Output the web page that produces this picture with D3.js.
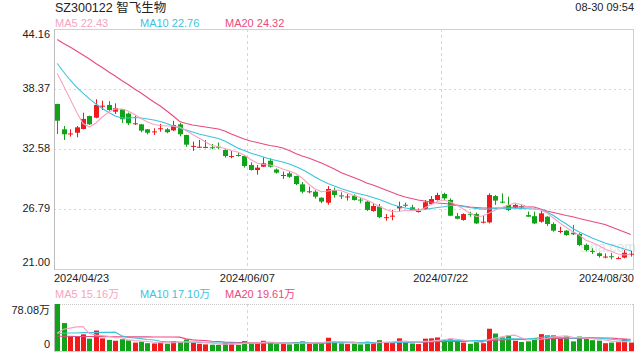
<!DOCTYPE html>
<html><head><meta charset="utf-8">
<script src="https://cdn.jsdelivr.net/npm/d3@7/dist/d3.min.js"></script>
<style>html,body{margin:0;padding:0;background:#fff;}svg{display:block;}</style>
</head><body><svg id="c" width="640" height="360"></svg>
<script>
const dates = ["2024/04/23","2024/04/24","2024/04/25","2024/04/26","2024/04/29","2024/04/30",
"2024/05/06","2024/05/07","2024/05/08","2024/05/09","2024/05/10","2024/05/13","2024/05/14","2024/05/15","2024/05/16","2024/05/17",
"2024/05/20","2024/05/21","2024/05/22","2024/05/23","2024/05/24","2024/05/27","2024/05/28","2024/05/29","2024/05/30","2024/05/31",
"2024/06/03","2024/06/04","2024/06/05","2024/06/06","2024/06/07","2024/06/11","2024/06/12","2024/06/13","2024/06/14",
"2024/06/17","2024/06/18","2024/06/19","2024/06/20","2024/06/21","2024/06/24","2024/06/25","2024/06/26","2024/06/27","2024/06/28",
"2024/07/01","2024/07/02","2024/07/03","2024/07/04","2024/07/05","2024/07/08","2024/07/09","2024/07/10","2024/07/11","2024/07/12",
"2024/07/15","2024/07/16","2024/07/17","2024/07/18","2024/07/19","2024/07/22","2024/07/23","2024/07/24","2024/07/25","2024/07/26",
"2024/07/29","2024/07/30","2024/07/31","2024/08/01","2024/08/02","2024/08/05","2024/08/06","2024/08/07","2024/08/08","2024/08/09",
"2024/08/12","2024/08/13","2024/08/14","2024/08/15","2024/08/16","2024/08/19","2024/08/20","2024/08/21","2024/08/22","2024/08/23",
"2024/08/26","2024/08/27","2024/08/28","2024/08/29","2024/08/30"];

const open = [36.92,34.48,34.00,34.15,34.51,35.76,35.60,36.70,36.83,36.18, 36.41,36.00,35.00,34.96,34.48,34.20,34.50,34.48,34.38,34.96,
33.93,32.80,32.75,32.70,32.75,32.80,32.48,31.85,32.00,31.90, 31.04,30.55,30.87,31.45,30.60,30.00,30.23,29.97,29.17,28.43,
28.46,27.88,27.40,28.62,28.10,27.95,28.07,27.70,27.50,26.60, 27.02,25.96,26.05,26.85,27.20,26.95,26.55,26.79,27.27,27.66,
28.24,27.66,26.10,25.73,26.33,26.30,25.52,25.50,28.04,27.50, 27.18,26.92,27.05,26.20,26.10,25.56,26.05,25.34,24.62,24.70,
24.50,24.38,23.32,22.75,22.52,22.15,22.23,22.00,22.10,22.43];
const high = [36.95,34.80,34.48,34.80,36.08,35.80,37.38,37.24,37.20,36.99, 36.45,36.10,35.80,35.00,34.50,34.58,35.00,34.60,35.30,35.10,
33.95,33.30,33.45,33.45,33.06,33.20,32.55,32.40,32.20,31.95, 31.30,31.04,31.78,31.68,30.70,30.40,30.45,30.00,29.40,28.95,
28.60,27.92,29.00,28.85,28.40,28.24,28.20,27.90,27.55,27.34, 27.27,26.30,26.70,27.50,27.40,27.20,26.85,27.66,28.04,28.36,
28.36,27.82,26.40,26.37,26.53,26.45,26.20,28.30,28.14,28.30, 27.98,27.30,27.20,26.55,26.53,26.76,26.10,25.50,25.08,24.75,
25.25,24.45,23.45,23.00,22.60,22.50,22.55,22.20,22.83,22.77];
const low = [34.03,33.45,33.77,33.71,34.48,34.90,35.55,36.34,36.27,35.96, 35.10,34.90,34.90,34.20,34.00,33.93,34.25,34.10,34.30,33.80,
32.80,32.40,32.70,32.65,32.55,32.55,31.75,31.68,31.85,30.78, 30.50,30.10,30.85,30.80,30.20,29.70,29.80,29.10,28.30,28.30,
27.80,27.35,27.20,27.90,27.75,27.60,27.60,27.34,26.60,26.53, 25.90,25.66,25.70,26.53,26.95,26.60,26.45,26.70,27.18,27.60,
27.66,26.10,25.80,25.66,26.05,25.35,25.40,25.40,27.18,27.34, 26.60,26.85,26.75,26.05,25.33,25.47,25.15,24.60,24.44,24.20,
24.28,23.20,22.70,22.45,22.10,22.03,21.93,21.95,22.03,22.20];
const close = [35.31,34.00,34.08,34.67,35.48,34.96,36.83,36.76,36.34,36.51, 35.45,35.06,35.06,34.35,34.15,34.28,34.58,34.20,34.90,34.00,
33.00,32.88,32.80,32.78,32.70,32.75,31.90,31.90,31.95,30.94, 30.55,30.78,31.20,30.87,30.30,30.07,29.90,29.20,28.46,28.50,
27.98,27.50,28.72,28.14,28.05,28.00,27.66,27.66,26.70,27.08, 26.00,26.00,26.15,27.08,27.15,26.70,26.60,27.44,27.75,28.14,
27.82,26.14,25.85,26.30,26.28,25.40,25.56,28.14,27.60,27.44, 26.70,27.18,27.00,26.05,25.40,26.37,25.34,24.70,24.67,24.28,
24.35,23.32,22.83,22.65,22.25,22.20,22.18,22.05,22.57,22.47];

const ma5 = [39.87,38.66,37.41,36.15,35.04,34.70,35.09,35.67,36.15,36.44, 36.44,36.25,35.91,35.52,35.19,34.94,34.85,34.80,34.80,34.70,
34.37,33.98,33.64,33.26,32.92,32.80,32.63,32.44,32.29,32.00, 31.57,31.23,31.08,31.04,30.89,30.65,30.46,30.22,29.78,29.20,
28.72,28.46,28.53,28.62,28.58,28.33,28.09,27.90,27.66,27.37, 27.03,26.74,26.53,26.55,26.65,26.65,26.65,26.89,27.22,27.51,
27.66,27.47,27.18,26.79,26.40,26.07,26.11,26.40,26.69,26.93, 27.18,27.37,27.22,27.01,26.84,26.69,26.40,25.92,25.44,25.00,
24.60,24.28,23.80,23.56,23.27,22.93,22.69,22.45,22.35,22.43];
const ma10 = [40.83,40.01,39.24,38.56,37.98,37.41,36.92,36.49,36.10,35.76, 35.57,35.57,35.62,35.57,35.48,35.38,35.23,35.04,34.80,34.61,
34.41,34.22,34.03,33.88,33.74,33.59,33.35,33.01,32.68,32.44, 32.19,32.00,31.81,31.62,31.47,31.33,31.13,30.89,30.60,30.26,
29.88,29.54,29.25,29.01,28.77,28.58,28.38,28.24,28.09,27.90, 27.71,27.47,27.22,27.03,26.89,26.79,26.69,26.74,26.84,26.93,
27.01,27.13,27.13,27.03,26.93,26.84,26.76,26.79,26.84,26.86, 26.86,26.86,26.84,26.82,26.79,26.74,26.50,26.16,25.73,25.34,
24.91,24.57,24.28,23.99,23.75,23.51,23.32,23.12,22.93,22.76];
const ma20 = [43.15,42.76,42.42,42.04,41.65,41.27,40.83,40.44,40.01,39.62, 39.19,38.80,38.37,37.98,37.55,37.12,36.73,36.25,35.76,35.23,
35.04,34.90,34.80,34.70,34.61,34.51,34.32,34.03,33.79,33.55, 33.35,33.21,33.06,32.92,32.82,32.68,32.44,32.15,31.90,31.71,
31.47,31.23,30.94,30.65,30.31,30.07,29.83,29.59,29.30,29.11, 28.86,28.62,28.38,28.14,27.95,27.80,27.66,27.56,27.47,27.37,
27.32,27.27,27.18,27.08,26.98,26.93,26.89,26.89,26.89,26.89, 26.93,26.98,26.98,27.01,26.98,26.79,26.60,26.45,26.31,26.16,
26.05,25.87,25.73,25.58,25.44,25.29,25.05,24.81,24.57,24.32];

// volume in 万 (10k shares)
const volume = [78.08,46.4,24.9,24.9,27.7,20.5,34,21,18.5,17, 19.5,17.5,14,15.5,13,12.5,14.5,12,16,15,
19,13.5,12,11,10.5,10,14,12.5,10,16.5, 15,13,17,13.5,11.5,12,11,14.5,16,12,
14,13,22,16,12.5,11.5,12,11,15.5,14, 18,13.5,15,21,14.5,12.5,11.5,20.5,21,22.5,
18.5,20,15,14,12,16.5,13,37,29,22.5, 26,17,15,16,21,28,26,26,22,24.2,
16,24,20,18,17.2,13,14,14.8,20,14];
const volMa5 = [30,36,38,40,40.4,28.9,26.4,25.6,24.3,22.2, 22.0,18.7,17.3,16.7,15.9,14.5,13.9,13.5,13.6,14.0,
15.3,15.1,15.1,14.1,13.2,11.4,11.5,11.6,11.4,12.6, 13.6,13.4,14.3,15.0,14.0,13.4,13.0,12.5,13.0,13.1,
13.5,13.9,15.4,15.4,15.5,15.0,14.8,12.6,12.5,12.8, 14.1,14.4,15.2,16.3,16.4,15.3,14.9,16.0,16.0,17.6,
18.8,20.5,19.4,18.0,15.9,15.5,14.1,18.5,21.5,23.6, 25.5,26.3,21.9,19.3,19.0,19.4,21.2,23.4,24.6,25.2,
22.8,22.4,21.2,20.4,19.0,18.4,16.4,15.4,15.8,15.16];
const volMa10 = [29,29.5,30,30,30.5,30.5,30.5,31,31,31.3, 25.4,22.6,21.5,20.5,19.1,18.3,16.3,15.4,15.2,15.0,
14.9,14.5,14.3,13.9,13.6,13.4,13.3,13.4,12.8,12.9, 12.5,12.5,13.0,13.2,13.3,13.5,13.2,13.4,14.0,13.6,
13.5,13.5,14.0,14.2,14.3,14.3,14.4,14.0,14.0,14.2, 14.6,14.6,13.9,14.4,14.6,14.7,14.7,15.6,16.2,17.0,
17.1,17.7,17.7,17.0,16.8,17.2,17.3,19.0,19.8,19.8, 20.5,20.2,20.2,20.4,21.3,22.5,23.8,22.7,22.0,22.1,
21.1,21.8,22.3,22.5,22.1,20.6,19.4,18.3,18.1,17.1];
const volMa20 = [24.5,24.4,24.3,24.2,24.1,24.0,23.9,23.9,23.8,23.7, 23.6,23.5,23.5,23.4,23.4,23.3,23.3,23.2,23.2,23.1,
20.2,18.5,17.9,17.2,16.3,15.8,14.8,14.4,14.0,13.9, 13.7,13.5,13.6,13.5,13.5,13.4,13.3,13.4,13.4,13.2,
13.0,13.0,13.5,13.7,13.8,13.9,13.8,13.7,14.0,13.9, 14.0,14.0,13.9,14.3,14.5,14.5,14.5,14.8,15.1,15.6,
15.8,16.2,15.8,15.7,15.7,15.9,16.0,17.3,18.0,18.4, 18.8,19.0,19.0,18.7,19.0,19.8,20.5,20.8,20.9,20.9,
20.8,21.0,21.3,21.5,21.7,21.5,21.6,20.5,20.0,19.61];

const priceTicks = [44.16, 38.37, 32.58, 26.79, 21.00];
const volTicks = [78.08, 0];
const dateTicks = ["2024/04/23","2024/06/07","2024/07/22","2024/08/30"];
const title = "SZ300122 智飞生物";
const timeLabel = "08-30 09:54";
const priceLegend = [["MA5", "22.43"], ["MA10", "22.76"], ["MA20", "24.32"]];
const volLegend = [["MA5", "15.16万"], ["MA10", "17.10万"], ["MA20", "19.61万"]];

// ---------- drawing ----------
const L = 54, R = 634, T = 29, B = 269, VT = 304, VB = 351;
const UP = "#f01a1a", DOWN = "#12a21a";
const C5 = "#f7a3c2", C10 = "#3cc3df", C20 = "#ea4a80";
const FONT = 'Arial, "Liberation Sans", "Noto Sans CJK SC", sans-serif';
const svg = d3.select("#c").style("font-family", FONT);

const x = d3.scaleBand().domain(dates).range([L, R]).paddingInner(0.3).paddingOuter(0.15);
const step = x.step();
const cx = i => x(dates[i]) + x.bandwidth() / 2;
const slotX = d => x(d) - step * x.paddingOuter();
const y = d3.scaleLinear().domain([21.00, 44.16]).range([B, T]);
const yv = d3.scaleLinear().domain([0, 78.08]).range([VB, VT]);

// title
svg.append("text").attr("x", 55).attr("y", 9).attr("dominant-baseline", "middle")
  .attr("font-size", 12.5).attr("fill", "#222").text(title);
svg.append("text").attr("x", R).attr("y", 8).attr("dominant-baseline", "middle").attr("text-anchor", "end")
  .attr("font-size", 11).attr("fill", "#222").text(timeLabel);

function legend(items, yy) {
  const xs = [55, 140, 225], cols = [C5, C10, C20];
  items.forEach((it, k) => {
    svg.append("text").attr("x", xs[k]).attr("y", yy).attr("dominant-baseline", "middle")
      .attr("font-size", 11).attr("fill", cols[k]).text(it[0] + " " + it[1]);
  });
}
legend(priceLegend, 24);
legend(volLegend, 295);

const grid = svg.append("g");
// horizontal price gridlines
grid.selectAll("line.h").data(priceTicks.slice(1, -1)).join("line")
  .attr("x1", L).attr("x2", R).attr("y1", d => Math.round(y(d)) + 0.5).attr("y2", d => Math.round(y(d)) + 0.5)
  .attr("stroke", "#d6d6d6").attr("stroke-dasharray", "2,3");
// vertical gridlines
const vDates = dateTicks.slice(1, -1);
[[T, B], [VT, VB]].forEach(([a, b]) => {
  grid.selectAll(null).data(vDates).join("line")
    .attr("x1", d => Math.round(slotX(d)) + 0.5).attr("x2", d => Math.round(slotX(d)) + 0.5)
    .attr("y1", a).attr("y2", b).attr("stroke", "#d6d6d6").attr("stroke-dasharray", "3,3");
});
// frames
svg.append("rect").attr("x", L + 0.5).attr("y", T + 0.5).attr("width", R - L - 1).attr("height", B - T)
  .attr("fill", "none").attr("stroke", "#d0d0d0");
svg.append("line").attr("x1", L + 0.5).attr("x2", L + 0.5).attr("y1", T).attr("y2", B + 1).attr("stroke", "#bdbdbd");
svg.append("line").attr("x1", L).attr("x2", R).attr("y1", VT + 0.5).attr("y2", VT + 0.5)
  .attr("stroke", "#c8c8c8").attr("stroke-dasharray", "1,1");
svg.append("line").attr("x1", L + 0.5).attr("x2", L + 0.5).attr("y1", VT).attr("y2", VB + 1).attr("stroke", "#bdbdbd");
svg.append("line").attr("x1", R - 0.5).attr("x2", R - 0.5).attr("y1", VT).attr("y2", VB + 1).attr("stroke", "#d0d0d0");
svg.append("line").attr("x1", L).attr("x2", R).attr("y1", VB + 0.5).attr("y2", VB + 0.5).attr("stroke", "#d0d0d0");

// y labels
priceTicks.forEach((v, k) => {
  let yy = y(v);
  if (k === 0) yy += 6; if (k === priceTicks.length - 1) yy -= 6;
  svg.append("text").attr("x", 50).attr("y", yy).attr("dominant-baseline", "middle").attr("text-anchor", "end")
    .attr("font-size", 11).attr("fill", "#222").text(v.toFixed(2));
});
volTicks.forEach((v, k) => {
  const yy = k === 0 ? yv(v) + 7 : yv(v) - 6;
  svg.append("text").attr("x", 50).attr("y", yy).attr("dominant-baseline", "middle").attr("text-anchor", "end")
    .attr("font-size", 11).attr("fill", "#222").text(v === 0 ? "0" : v.toFixed(2) + "万");
});
// x labels
dateTicks.forEach((d, k) => {
  const anchor = k === 0 ? "start" : (k === dateTicks.length - 1 ? "end" : "middle");
  const xx = k === 0 ? L : (k === dateTicks.length - 1 ? R : slotX(d));
  svg.append("text").attr("x", xx).attr("y", 279).attr("dominant-baseline", "middle").attr("text-anchor", anchor)
    .attr("font-size", 11).attr("fill", "#222").text(d);
});

// watermark
svg.append("text").attr("x", 608).attr("y", 248).attr("dominant-baseline", "middle").attr("text-anchor", "middle")
  .attr("font-size", 14).attr("fill", "#d8d8d8").attr("opacity", 0.7).text("sina.com");

// candles
const idx = d3.range(dates.length);
const col = i => close[i] >= open[i] ? UP : DOWN;
const cg = svg.append("g");
cg.selectAll("line.w").data(idx).join("line")
  .attr("x1", i => Math.round(cx(i)) + 0.5).attr("x2", i => Math.round(cx(i)) + 0.5)
  .attr("y1", i => y(high[i])).attr("y2", i => y(low[i])).attr("stroke", col);
cg.selectAll("rect.b").data(idx).join("rect")
  .attr("x", i => Math.round(cx(i)) - 2).attr("width", 5)
  .attr("y", i => Math.min(y(open[i]), y(close[i])))
  .attr("height", i => Math.max(1, Math.abs(y(open[i]) - y(close[i]))))
  .attr("fill", col);

// MA lines
const line = d3.line().x((d, i) => cx(i)).y(d => y(d));
[[ma20, C20], [ma10, C10], [ma5, C5]].forEach(([arr, c]) => {
  svg.append("path").datum(arr).attr("d", line).attr("fill", "none").attr("stroke", c).attr("stroke-width", 1.1);
});

// volume
svg.append("g").selectAll("rect").data(idx).join("rect")
  .attr("x", i => Math.round(cx(i)) - 2).attr("width", 5)
  .attr("y", i => yv(volume[i])).attr("height", i => VB - yv(volume[i]))
  .attr("fill", col);
const vline = d3.line().x((d, i) => cx(i)).y(d => yv(d));
[[volMa20, C20], [volMa10, C10], [volMa5, C5]].forEach(([arr, c]) => {
  svg.append("path").datum(arr).attr("d", vline).attr("fill", "none").attr("stroke", c).attr("stroke-width", 1.1);
});
</script></body></html>
